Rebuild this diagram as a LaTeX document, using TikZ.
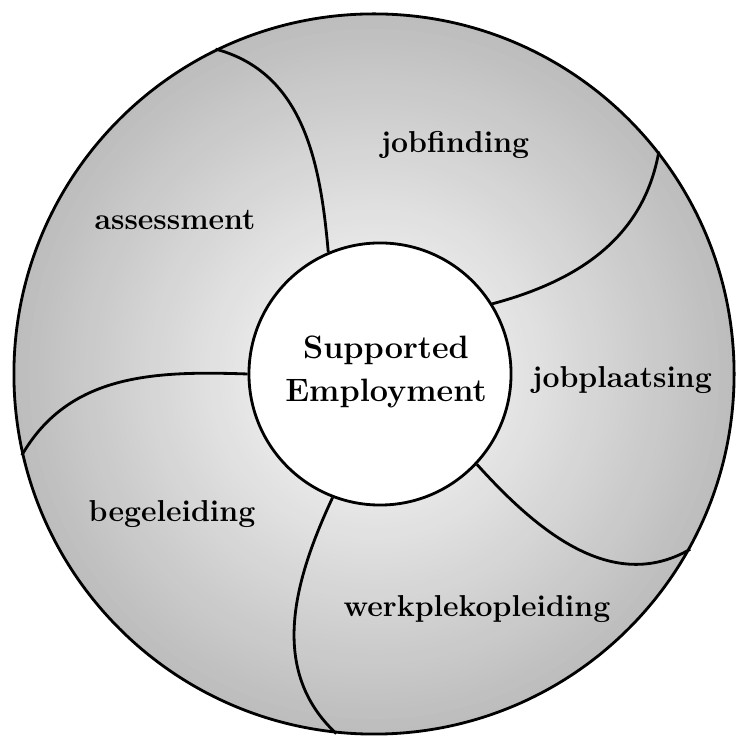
\documentclass[tikz,border=0pt]{standalone}
\usepackage{tikz}
\usetikzlibrary{calc}
\tikzset{
  spoke/.style={line width=2pt},
  sector/.style={anchor=base, font=\fontsize{21.5}{26}\selectfont\bfseries}
}

\begin{document}
\begin{tikzpicture}[x=0.025cm,y=0.025cm]
            \useasboundingbox (0,0) rectangle (736,741);
            % grey ramp behind the ring
            \foreach \i in {0,...,71} {
              \pgfmathsetmacro\rr{360*(1-\i/72)}
              \pgfmathsetmacro\pp{26*(1-\i/72)}
              \fill[black!\pp] (374,367) circle[radius=\rr];
            }
            
            % the two circles
            \node (rim) at (374,367) [circle, draw, line width=2pt, inner sep=0pt, minimum size=18cm]{};
            \node (hub) at (380,367) [circle, draw, line width=2pt, fill=white, inner sep=0pt, minimum size=6.55cm]{};
            
            % spokes from hub to rim
            \draw[spoke] (hub.113) to[out=95,in=-15] (rim.116);
            \draw[spoke] (hub.32) to[out=15,in=-100] (rim.38);
            \draw[spoke] (hub.-43) to[out=-48,in=-150] (rim.-29);
            \draw[spoke] (hub.-111) to[out=-115,in=137] (rim.-96);
            \draw[spoke] (hub.180) to[out=178,in=60] (rim.193);
            
            % centre text
            \node (se) at (386,369) [align=center, font=\fontsize{23}{30}\selectfont\bfseries]{Supported\\Employment};
            
            % sector labels
            \node (as) at (175,511) [sector]{assessment};
            \node (jf) at (455,588) [sector]{jobfinding};
            \node (jp) at (622,353) [sector]{jobplaatsing};
            \node (wo) at (477,124) [sector]{werkplekopleiding};
            \node (bg) at (172,219) [sector]{begeleiding};
            \end{tikzpicture}
\end{document}
